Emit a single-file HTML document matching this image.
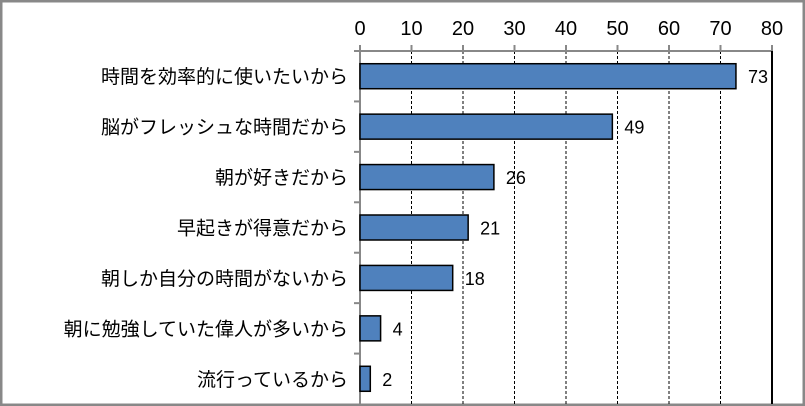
<!DOCTYPE html>
<html><head><meta charset="utf-8"><style>
body{margin:0;background:#fff}
svg{display:block}
text{font-family:"Liberation Sans","Noto Sans CJK JP",sans-serif;fill:#000}
</style></head><body>
<svg width="805" height="406">
<rect x="1" y="1" width="803" height="404" fill="#fff" stroke="#888" stroke-width="3"/>
<g id="grid"></g><g id="bars"></g><g id="labels"></g>
</svg>
<script>
const categories=["時間を効率的に使いたいから","脳がフレッシュな時間だから","朝が好きだから","早起きが得意だから","朝しか自分の時間がないから","朝に勉強していた偉人が多いから","流行っているから"];
const values=[73,49,26,21,18,4,2];
const ticks=[0,10,20,30,40,50,60,70,80];
const ns="http://www.w3.org/2000/svg";
const x0=360,x1=772,plotTop=51,plotBot=404,xmax=80;
const X=v=>x0+(x1-x0)*v/xmax;
const band=(plotBot-plotTop)/categories.length;
function mk(t,a,p){const e=document.createElementNS(ns,t);for(const k in a)e.setAttribute(k,a[k]);p.appendChild(e);return e;}
const g=document.getElementById('grid'),b=document.getElementById('bars'),l=document.getElementById('labels');
ticks.forEach(t=>{
 if(t>0&&t<80){const e=mk('line',{x1:X(t),x2:X(t),y1:plotTop,y2:plotBot,stroke:'#000','stroke-width':1,'stroke-dasharray':'3,2'},g);
 
 }
 const tk=mk('line',{x1:X(t),x2:X(t),y1:plotTop-6,y2:plotTop,stroke:'#888','stroke-width':2},g);
 
 
 const tx=mk('text',{x:X(t),y:35,'text-anchor':'middle','font-size':20},l);tx.textContent=t;
 
 
});
const ax=mk('line',{x1:x0-6,x2:x1,y1:plotTop,y2:plotTop,stroke:'#888','stroke-width':2},g);


const yx=mk('line',{x1:x0,x2:x0,y1:plotTop,y2:plotBot,stroke:'#888','stroke-width':2},g);


const rl=mk('line',{x1:x1,x2:x1,y1:plotTop,y2:plotBot,stroke:'#000','stroke-width':2},g);


categories.forEach((c,i)=>{
 const cy=plotTop+band*(i+0.5);
 if(i>0){const t=mk('line',{x1:x0-6,x2:x0,y1:plotTop+band*i,y2:plotTop+band*i,stroke:'#888','stroke-width':2},g);
 
 }
 const r=mk('rect',{x:x0,y:cy-12.5,width:X(values[i])-x0,height:25,fill:'#4f81bd',stroke:'#000','stroke-width':1.5},b);
 
 
 const ct=mk('text',{x:348,y:cy+7,'text-anchor':'end','font-size':19},l);ct.textContent=c;
 
 
 const vt=mk('text',{x:X(values[i])+12,y:cy+7,'font-size':18},l);vt.textContent=values[i];
 
 
});
</script>
</body></html>
